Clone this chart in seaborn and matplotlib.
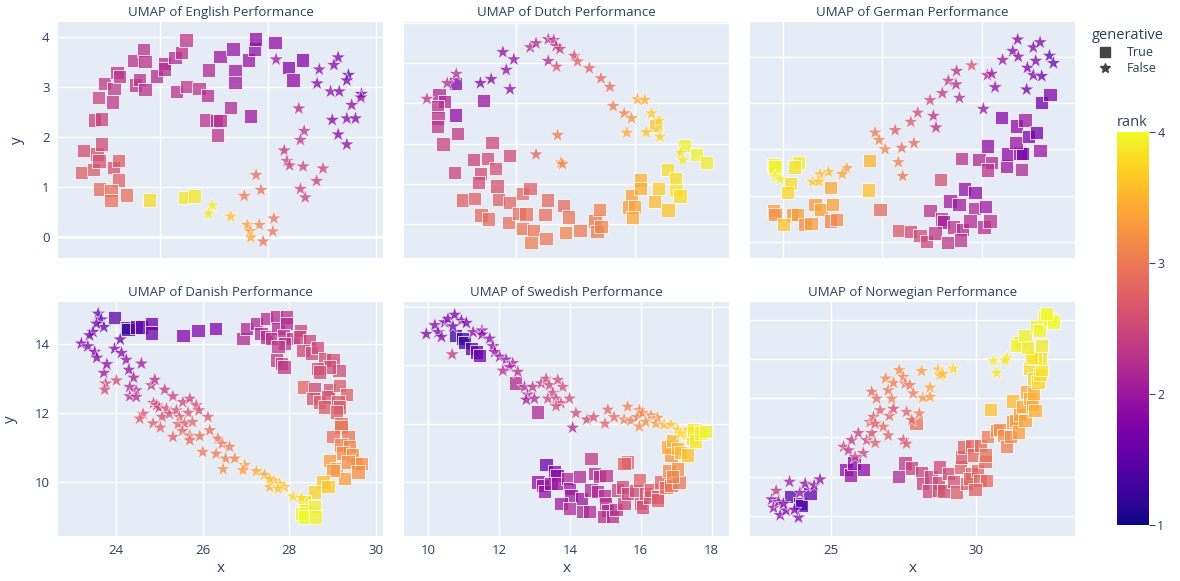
import matplotlib
matplotlib.use("Agg")
import matplotlib.pyplot as plt
import seaborn as sns
import pandas as pd
from matplotlib.lines import Line2D
from matplotlib.cm import ScalarMappable
from matplotlib.colors import Normalize

plt.rcParams['font.family'] = ['Open Sans', 'DejaVu Sans']

# ---------------- English ----------------
en_sq_x = [2.55, 2.58, 2.77, 2.83, 2.87, 2.91, 3.14, 3.23, 3.23, 2.88, 3.09, 3.09, 3.38, 3.80, 4.45, 4.64,
           2.78, 2.92, 2.86, 2.97, 3.12, 3.15, 3.20, 3.25, 3.51, 3.54, 3.62, 3.70, 3.72, 3.72, 3.94, 4.08,
           4.08, 4.28, 4.40, 4.48, 4.30, 4.49, 4.72, 4.88, 4.90, 4.85, 5.05, 5.11, 5.06, 5.11, 5.31, 5.35,
           5.39, 5.39, 5.64, 5.67, 5.75, 5.77, 6.13, 6.38, 6.46, 6.64]
en_sq_y = [1.29, 1.73, 1.35, 1.66, 1.52, 1.86, 1.39, 1.53, 1.14, 0.96, 0.93, 0.73, 0.84, 0.74, 0.79, 0.82,
           2.34, 2.36, 2.79, 3.07, 2.70, 2.97, 3.29, 3.21, 3.53, 3.04, 3.15, 3.74, 3.51, 2.95, 3.22, 3.47,
           3.36, 3.59, 3.69, 3.94, 2.91, 3.01, 2.97, 2.83, 3.34, 2.34, 2.33, 2.33, 2.04, 3.61, 2.59, 3.76,
           3.33, 3.09, 3.54, 2.42, 3.76, 3.96, 3.89, 3.39, 3.14, 3.54]
en_sq_rank = [2.75, 2.55, 2.7, 2.6, 2.6, 2.55, 2.6, 2.7, 2.75, 2.85, 2.9, 2.9, 2.9, 3.8, 3.85, 3.85,
              2.45, 2.45, 2.45, 2.33, 2.33, 2.33, 2.28, 2.28, 2.28, 2.28, 2.28, 2.28, 2.28, 2.28, 2.23, 2.23,
              2.23, 2.23, 2.28, 2.33, 2.28, 2.33, 2.28, 2.23, 2.18, 2.28, 2.23, 2.23, 2.28, 1.98, 2.18, 1.98,
              2.03, 2.03, 1.98, 1.98, 1.93, 1.88, 1.88, 1.8, 1.88, 1.8]
en_st_x = [6.15, 6.95, 6.91, 7.30, 7.22, 7.16, 7.32, 7.49, 7.46, 7.73, 7.72, 7.55, 7.19, 7.46, 7.62, 7.30,
           7.46, 6.57, 6.67, 6.60, 6.30, 6.35, 6.40, 6.65, 7.02, 6.90, 6.60, 6.69, 5.78, 5.87, 5.56, 6.11,
           6.09, 5.84, 5.62, 5.67, 5.68, 5.91, 5.31, 4.97, 4.90]
en_st_y = [3.55, 3.35, 3.07, 3.59, 3.44, 2.91, 2.91, 3.24, 3.13, 2.86, 2.79, 2.64, 2.34, 2.37, 2.37, 2.05,
           1.85, 2.57, 2.12, 1.94, 1.73, 1.52, 1.43, 1.41, 1.37, 1.12, 0.96, 0.79, 1.24, 0.94, 0.82, 0.37,
           0.11, 0.24, 0.24, 0.12, -0.01, -0.09, 0.41, 0.63, 0.47]
en_st_rank = [1.98, 1.88, 1.8, 1.75, 1.8, 1.88, 1.8, 1.5, 1.75, 1.55, 1.88, 1.88, 1.8, 1.8, 1.8, 1.8,
              1.88, 2.23, 2.28, 2.33, 2.33, 2.45, 2.45, 2.45, 2.45, 2.45, 2.45, 2.45, 2.9, 2.9, 2.95, 2.95,
              2.95, 3.1, 3.3, 3.3, 3.4, 2.95, 3.6, 3.85, 3.85]

# ---------------- Dutch ----------------
nl_sq_x = [2.49, 1.79, 2.03, 1.72, 1.75, 1.72, 2.49, 3.66, 2.56, 1.96, 4.01, 3.24, 3.84, 4.75, 2.45, 3.53,
           4.16, 3.46, 4.22, 2.77, 3.28, 4.29, 4.75, 5.30, 5.61, 3.56, 3.88, 4.70, 5.14, 5.44, 5.30, 5.76,
           5.65, 6.28, 6.24, 6.35, 7.00, 7.21, 7.09, 7.70, 8.33, 8.51, 8.41, 8.58, 9.87, 10.22, 10.22, 9.72,
           9.97, 9.90, 10.83, 10.99, 11.36, 11.71, 11.72, 11.89, 11.39, 12.09, 12.59, 12.99, 10.87]
nl_sq_y = [4.50, 4.21, 4.04, 3.93, 3.64, 3.42, 3.71, 4.07, 3.25, 2.99, 3.02, 2.61, 2.63, 2.70, 2.28, 2.26,
           2.39, 2.03, 1.95, 1.60, 1.64, 1.62, 1.53, 1.76, 1.89, 1.23, 1.13, 1.04, 1.27, 1.25, 0.89, 0.85,
           0.55, 0.65, 1.24, 1.60, 1.47, 1.18, 0.79, 0.84, 1.08, 1.37, 0.81, 0.95, 1.70, 2.10, 1.89, 1.43,
           1.43, 1.16, 1.56, 1.89, 2.36, 2.14, 1.83, 1.70, 1.35, 2.96, 2.73, 2.53, 3.45]
nl_sq_rank = [1.8, 2.18, 2.18, 2.28, 2.28, 2.33, 1.88, 1.98, 2.33, 2.45, 2.5, 2.45, 2.55, 2.55, 2.45, 2.55,
              2.6, 2.55, 2.6, 2.75, 2.75, 2.75, 2.8, 2.85, 2.75, 2.85, 2.85, 2.9, 2.9, 2.9, 2.95, 2.95,
              3.05, 3.0, 2.9, 2.85, 2.85, 2.95, 3.1, 3.0, 3.0, 3.05, 3.0, 3.1, 3.35, 3.45, 3.45, 3.3,
              3.35, 3.4, 3.55, 3.65, 3.8, 3.8, 3.85, 3.8, 3.6, 3.95, 3.95, 3.9, 3.65]
nl_st_x = [1.29, 2.52, 2.14, 3.53, 3.98, 4.77, 4.61, 4.47, 4.93, 5.62, 5.86, 6.37, 6.60, 6.70, 6.86, 6.37,
           6.72, 7.46, 7.60, 8.09, 8.58, 8.95, 9.09, 9.55, 9.86, 10.11, 10.41, 10.69, 11.01, 9.66, 10.48, 11.05,
           11.92, 12.00, 6.76, 5.86, 6.90, 6.97]
nl_st_y = [4.11, 4.73, 4.50, 4.50, 4.60, 4.35, 4.83, 5.27, 5.09, 5.39, 5.49, 5.59, 5.57, 5.42, 5.35, 5.05,
           4.91, 5.18, 5.04, 4.87, 4.62, 4.41, 3.93, 3.75, 3.63, 4.10, 4.08, 3.75, 3.57, 3.27, 3.28, 3.17,
           2.77, 2.59, 3.21, 2.73, 2.53, 2.49]
nl_st_rank = [2.28, 2.23, 2.23, 1.75, 1.8, 1.88, 1.88, 1.88, 1.93, 2.18, 2.18, 2.23, 2.28, 2.28, 2.33, 2.18,
              2.6, 2.5, 2.8, 2.75, 2.8, 2.85, 3.0, 3.1, 3.2, 3.4, 3.45, 3.65, 3.7, 3.4, 3.6, 3.7,
              3.8, 3.85, 3.0, 2.8, 3.2, 3.1]

# ---------------- German ----------------
de_sq_x = [9.50, 9.58, 10.76, 10.56, 10.37, 10.22, 9.50, 9.58, 10.48, 10.73, 10.00, 11.10, 11.40, 12.39, 11.60, 11.90,
           12.48, 12.39, 12.69, 14.34, 14.29, 14.88, 17.94, 19.00, 19.87, 20.51, 20.29, 20.29, 21.27, 21.32, 22.02, 21.94,
           22.06, 21.74, 22.95, 21.77, 22.19, 22.36, 22.78, 21.01, 23.03, 23.45, 19.13, 19.67, 18.41, 18.86, 19.64, 20.21,
           17.40, 17.99, 18.07, 18.58, 19.05, 19.42, 20.12, 20.43, 15.82, 16.43, 16.90, 17.23, 17.65, 18.27, 18.95]
de_sq_y = [1.66, 1.62, 1.72, 1.62, 1.26, 1.06, 0.67, 0.59, 0.58, 0.59, 0.38, 0.38, 0.40, 1.17, 0.81, 0.70,
           0.81, 0.45, 0.48, 1.75, 1.12, 0.70, 1.35, 1.80, 1.78, 1.72, 1.55, 2.07, 1.64, 1.90, 1.56, 1.92,
           1.91, 2.14, 1.98, 2.50, 2.63, 2.28, 2.36, 2.69, 3.01, 3.19, 1.14, 1.06, 0.88, 0.81, 0.72, 0.77,
           0.67, 0.49, 0.43, 0.32, 0.27, 0.45, 0.32, 0.45, 0.25, 0.22, 0.14, 0.00, 0.19, -0.01, 0.04]
de_sq_rank = [3.95, 3.95, 3.9, 3.85, 3.8, 3.75, 3.35, 3.2, 3.25, 3.3, 3.6, 3.2, 3.3, 3.4, 3.3, 3.35,
              3.35, 3.05, 3.15, 3.5, 3.6, 2.85, 2.6, 2.28, 2.18, 2.18, 2.28, 1.88, 1.98, 1.88, 2.18, 1.8,
              1.7, 1.98, 1.98, 1.88, 2.03, 1.75, 1.65, 1.8, 1.6, 1.75, 1.93, 1.88, 2.03, 2.03, 2.18, 2.03,
              2.28, 2.28, 2.03, 2.28, 2.23, 2.23, 2.23, 2.28, 2.7, 2.55, 2.55, 2.5, 2.33, 2.33, 2.28]
de_st_x = [21.82, 21.57, 21.85, 22.61, 22.95, 23.42, 23.62, 22.73, 22.31, 22.61, 23.03, 22.27, 21.06, 20.29, 20.51, 20.68,
           20.09, 19.50, 18.74, 18.32, 18.71, 18.88, 18.02, 17.40, 16.78, 17.57, 17.70, 16.43, 15.64, 14.63, 14.83, 15.13,
           15.97, 16.59, 15.80, 16.02, 13.20, 12.98, 12.27, 11.85, 11.48, 11.80, 9.58, 9.84]
de_st_y = [4.37, 4.12, 4.00, 4.20, 4.31, 4.02, 3.86, 3.91, 3.76, 3.60, 3.58, 3.29, 3.93, 3.60, 3.63, 3.34,
           2.87, 3.81, 3.69, 3.48, 3.40, 3.11, 3.21, 3.06, 2.79, 2.72, 2.47, 2.59, 2.41, 2.36, 2.20, 2.00,
           2.03, 2.13, 1.72, 1.42, 1.59, 1.46, 1.51, 1.46, 1.30, 1.30, 1.41, 1.35]
de_st_rank = [1.8, 1.8, 1.88, 1.8, 1.75, 1.5, 1.55, 1.75, 1.75, 1.75, 1.6, 1.65, 1.93, 2.18, 1.98, 1.88,
              1.93, 2.6, 2.28, 2.28, 2.23, 2.18, 2.33, 2.5, 2.55, 2.28, 2.23, 2.7, 2.7, 3.0, 3.05, 3.1,
              2.85, 2.85, 3.05, 2.95, 3.3, 3.35, 3.5, 3.55, 3.6, 3.6, 3.9, 3.9]

# ---------------- Danish ----------------
da_sq_x = [23.96, 24.23, 24.27, 24.46, 24.58, 24.81, 24.81, 25.54, 25.89, 26.30, 26.93, 27.01, 27.24, 27.35, 27.47, 27.47,
           27.70, 27.74, 27.59, 27.93, 27.93, 27.86, 28.09, 27.89, 27.74, 28.26, 28.24, 28.47, 28.32, 28.51, 28.66, 27.70,
           27.82, 27.88, 28.82, 29.01, 29.15, 28.93, 28.66, 28.70, 28.33, 28.59, 28.55, 28.70, 28.93, 28.90, 29.17, 29.32,
           29.13, 29.17, 28.82, 29.09, 29.20, 29.20, 29.01, 29.36, 29.20, 29.40, 29.24, 29.47, 29.55, 28.93, 29.09, 29.36,
           29.67, 29.59, 29.28, 29.01, 28.78, 28.90, 28.59, 28.36, 28.39, 28.59, 28.28, 28.36, 28.61]
da_sq_y = [14.77, 14.48, 14.43, 14.50, 14.50, 14.60, 14.33, 14.26, 14.41, 14.46, 14.16, 14.46, 14.60, 14.31, 14.75, 14.21,
           14.79, 14.46, 14.16, 14.79, 14.60, 14.26, 14.16, 14.02, 13.94, 14.41, 14.21, 14.11, 13.83, 13.75, 13.90, 13.54,
           13.44, 13.34, 13.58, 13.54, 13.24, 13.34, 13.29, 13.20, 12.76, 12.71, 12.42, 12.32, 12.68, 12.47, 12.81, 12.55,
           12.32, 12.18, 12.18, 12.03, 11.69, 11.60, 11.33, 11.33, 11.07, 11.04, 10.84, 10.78, 10.53, 10.63, 10.39, 10.58,
           10.53, 10.29, 10.10, 10.34, 10.00, 9.87, 9.71, 9.42, 9.18, 9.27, 9.08, 8.98, 8.98]
da_sq_rank = [1.5, 1.3, 1.2, 1.5, 1.5, 1.6, 1.6, 1.75, 1.75, 1.75, 2.18, 2.18, 2.18, 2.18, 2.23, 2.23,
              2.23, 2.23, 2.28, 2.28, 2.23, 2.28, 2.33, 2.28, 2.33, 2.45, 2.45, 2.45, 2.5, 2.5, 2.5, 2.33,
              2.45, 2.33, 2.55, 2.55, 2.55, 2.55, 2.55, 2.55, 2.8, 2.55, 2.6, 2.7, 2.6, 2.6, 2.7, 2.75,
              2.7, 2.7, 2.7, 2.7, 2.9, 2.95, 2.9, 2.95, 3.1, 3.1, 3.15, 3.2, 3.2, 3.3, 3.3, 3.2,
              3.2, 3.2, 3.3, 3.25, 3.6, 3.65, 3.75, 3.85, 3.95, 3.9, 4.0, 4.0, 3.95]
da_st_x = [23.58, 23.65, 23.71, 23.54, 23.46, 23.38, 23.19, 23.34, 23.50, 23.55, 23.71, 23.78, 23.75, 23.73, 24.00, 23.96,
           24.09, 24.12, 24.23, 24.29, 24.40, 24.46, 24.31, 24.31, 24.46, 24.58, 24.81, 24.89, 25.12, 25.31, 24.86, 24.62,
           24.54, 24.93, 24.99, 25.16, 25.06, 25.23, 25.39, 25.54, 25.70, 25.85, 25.91, 25.66, 25.46, 26.12, 24.85, 25.02,
           25.31, 25.43, 25.58, 25.76, 25.53, 25.70, 25.70, 25.93, 26.00, 26.16, 26.35, 26.31, 26.45, 26.62, 26.53, 26.74,
           26.47, 26.97, 26.93, 27.24, 27.43, 27.55, 27.66, 27.78, 27.89, 27.74, 27.55, 28.09, 28.28]
da_st_y = [14.89, 14.72, 14.50, 14.60, 14.36, 14.26, 14.02, 13.94, 13.78, 13.61, 13.17, 13.42, 12.86, 12.68, 12.95, 13.87,
           14.14, 13.75, 13.55, 13.26, 13.03, 12.66, 12.76, 12.49, 12.47, 13.44, 12.81, 12.97, 12.68, 12.49, 12.29, 11.98,
           11.84, 12.23, 12.16, 12.13, 11.89, 11.98, 12.08, 12.32, 12.42, 12.23, 12.08, 12.01, 11.89, 11.89, 11.70, 11.58,
           11.31, 11.68, 11.70, 11.74, 11.48, 11.35, 11.21, 11.33, 10.87, 11.50, 11.26, 10.82, 11.11, 11.02, 10.68, 10.68,
           10.37, 10.49, 10.34, 10.31, 10.21, 9.85, 10.04, 9.95, 9.85, 9.80, 10.09, 9.58, 9.53]
da_st_rank = [1.55, 1.55, 1.5, 1.6, 1.65, 1.65, 1.7, 1.75, 1.75, 1.8, 1.98, 1.88, 2.45, 2.55, 2.55, 1.75,
              1.65, 1.8, 1.88, 1.88, 2.03, 2.18, 2.18, 2.23, 2.23, 1.98, 2.28, 2.23, 2.33, 2.45, 2.5, 2.6,
              2.7, 2.5, 2.5, 2.55, 2.55, 2.55, 2.55, 2.5, 2.5, 2.55, 2.6, 2.6, 2.7, 2.7, 2.7, 2.75,
              2.75, 2.75, 2.7, 2.8, 2.8, 2.85, 2.85, 2.85, 3.0, 2.85, 2.9, 3.0, 3.0, 3.0, 3.05, 3.1,
              3.2, 3.3, 3.3, 3.4, 3.4, 3.5, 3.55, 3.6, 3.6, 3.6, 3.55, 3.75, 3.8]

# ---------------- Swedish ----------------
sv_sq_x = [10.78, 10.98, 11.03, 11.22, 11.36, 11.45, 12.47, 13.08, 13.33, 13.56, 13.64, 13.10, 13.22, 13.28, 13.47, 13.66,
           13.94, 13.99, 14.27, 14.03, 14.32, 13.75, 13.99, 14.36, 14.55, 14.60, 14.69, 14.83, 15.02, 14.60, 14.78, 14.97,
           15.00, 15.07, 14.95, 15.21, 15.30, 15.53, 15.35, 15.49, 15.63, 15.53, 15.63, 15.86, 15.96, 16.00, 16.05, 16.14,
           16.24, 16.29, 16.47, 16.47, 16.57, 16.71, 16.85, 17.08, 16.80, 17.04, 16.89, 16.85, 16.75, 16.89, 17.04, 17.13,
           17.32, 17.36, 17.46, 17.50, 17.55, 17.69, 17.83]
sv_sq_y = [4.51, 4.46, 4.40, 4.29, 4.23, 4.17, 3.70, 3.20, 2.30, 2.17, 2.11, 2.00, 1.94, 1.83, 1.97, 1.97,
           2.06, 1.89, 2.09, 1.77, 1.71, 1.63, 1.54, 1.49, 1.49, 2.40, 2.14, 2.09, 2.11, 1.86, 1.84, 1.77,
           1.63, 1.51, 1.40, 1.40, 1.53, 1.63, 1.86, 1.91, 2.34, 2.31, 1.80, 1.85, 2.03, 1.63, 1.57, 1.80,
           1.74, 1.86, 1.74, 1.69, 2.00, 1.90, 1.94, 2.00, 2.20, 2.22, 2.09, 2.46, 2.60, 2.71, 2.57, 2.51,
           2.46, 2.84, 2.74, 2.89, 2.70, 2.84, 2.87]
sv_sq_rank = [1.3, 1.2, 1.3, 1.4, 1.45, 1.6, 2.18, 2.18, 1.6, 1.75, 1.8, 1.88, 1.98, 1.93, 1.93, 1.98,
              2.18, 2.03, 2.18, 2.03, 1.98, 2.03, 2.18, 2.18, 2.18, 2.33, 2.18, 2.18, 2.28, 2.18, 2.18, 2.23,
              2.23, 2.18, 2.23, 2.23, 2.28, 2.45, 2.45, 2.5, 2.8, 2.75, 2.5, 2.55, 2.75, 2.55, 2.55, 2.6,
              2.6, 2.7, 2.7, 2.7, 2.8, 2.85, 2.95, 2.95, 3.15, 3.2, 3.1, 3.25, 3.4, 3.5, 3.5, 3.55,
              3.6, 3.8, 3.85, 3.9, 3.85, 3.95, 3.95]
sv_st_x = [9.95, 10.19, 10.28, 10.38, 10.47, 10.56, 10.75, 10.94, 11.08, 10.70, 11.27, 11.52, 11.52, 11.74, 11.83, 11.88,
           12.02, 12.20, 12.39, 12.30, 12.11, 12.53, 10.68, 12.72, 12.81, 12.77, 13.00, 12.95, 13.19, 13.33, 13.42, 13.66,
           13.80, 13.52, 13.38, 13.61, 13.75, 13.99, 13.61, 14.17, 14.08, 14.48, 14.67, 14.99, 15.07, 15.25, 15.63, 15.53,
           15.72, 15.96, 15.91, 16.05, 16.29, 15.96, 16.14, 16.47, 16.43, 16.66, 16.85, 17.04, 17.13]
sv_st_y = [4.54, 4.69, 4.57, 4.49, 4.74, 4.80, 4.87, 4.77, 4.73, 4.67, 4.57, 4.60, 4.53, 4.46, 4.33, 4.23,
           4.15, 4.10, 4.04, 3.97, 3.91, 3.89, 4.19, 3.63, 3.50, 3.41, 3.43, 3.63, 3.69, 3.77, 3.66, 3.75,
           3.63, 3.53, 3.43, 3.43, 3.35, 3.43, 3.30, 3.18, 2.93, 3.07, 3.11, 3.00, 3.24, 3.11, 3.29, 3.07,
           3.05, 3.23, 3.11, 3.18, 3.14, 2.95, 3.03, 3.10, 3.00, 2.98, 2.98, 2.90, 2.83]
sv_st_rank = [1.75, 1.75, 1.75, 1.8, 1.7, 1.75, 1.7, 1.7, 1.7, 1.65, 1.88, 1.88, 1.8, 1.88, 1.93, 1.88,
              1.98, 1.98, 2.18, 2.03, 2.23, 2.23, 2.33, 2.18, 2.18, 2.03, 2.18, 2.28, 2.33, 2.45, 2.5, 2.5,
              2.55, 2.45, 2.45, 2.5, 2.5, 2.55, 2.55, 2.55, 2.18, 2.55, 2.6, 2.75, 2.8, 2.8, 3.1, 3.0,
              3.0, 3.05, 3.0, 3.1, 3.15, 3.1, 3.2, 3.2, 3.3, 3.5, 3.6, 3.7, 3.75]

# ---------------- Norwegian ----------------
no_sq_x = [23.62, 23.94, 24.00, 24.29, 25.53, 25.67, 25.80, 26.12,
           27.33, 27.56, 27.79, 27.94, 28.13, 28.17, 28.36, 28.45, 28.74, 28.70,
           28.72, 28.90, 29.05, 29.22, 29.33, 29.47, 29.51, 29.68, 29.59, 29.85,
           29.91, 29.85, 29.79, 30.05, 30.14, 30.16, 30.31, 30.37, 30.34, 29.97,
           30.39, 30.50, 30.71, 30.80, 30.94, 31.06, 31.19, 31.25, 31.26, 31.38,
           31.46, 31.51, 31.61, 31.69, 31.75, 31.86, 31.94, 31.97, 32.03, 31.86,
           31.97, 32.14, 32.20, 32.26, 32.22, 32.03, 31.92, 32.26, 31.51, 31.40,
           31.69, 31.77, 32.09, 32.18, 32.37, 32.55, 32.66, 32.43]
no_sq_y = [1.50, 1.31, 1.27, 1.57, 2.18, 2.04, 2.35, 2.19,
           2.01, 2.35, 2.22, 3.37, 2.10, 1.82, 1.64, 1.99, 2.25, 1.84,
           1.65, 1.64, 2.08, 1.87, 1.61, 2.25, 2.50, 1.82, 2.76, 2.80,
           2.55, 2.08, 1.95, 2.16, 1.91, 2.80, 2.38, 1.91, 2.55, 1.67,
           3.03, 3.71, 3.18, 3.20, 3.05, 2.77, 3.03, 3.39, 3.93, 3.44,
           3.14, 3.59, 3.78, 3.44, 4.16, 3.99, 3.84, 4.12, 3.69, 4.75,
           4.50, 4.41, 4.60, 4.73, 5.01, 5.01, 5.03, 5.35, 5.41, 5.35,
           5.60, 5.29, 5.83, 5.73, 6.07, 6.00, 5.94, 6.15]
no_sq_rank = [1.45, 1.35, 1.4, 1.55, 1.88, 1.93, 1.8, 1.88,
              2.18, 2.33, 2.45, 2.9, 2.45, 2.45, 2.5, 2.45, 2.5, 2.55,
              2.55, 2.6, 2.55, 2.6, 2.7, 2.75, 2.7, 2.75, 2.75, 2.8,
              2.8, 2.75, 2.8, 2.8, 2.8, 2.85, 2.85, 2.85, 2.9, 2.75,
              3.05, 3.6, 3.1, 3.15, 3.2, 3.05, 3.15, 3.2, 3.55, 3.3,
              3.3, 3.35, 3.4, 3.35, 3.4, 3.45, 3.4, 3.45, 3.45, 3.8,
              3.75, 3.75, 3.8, 3.85, 3.85, 3.85, 3.85, 3.9, 3.9, 3.95,
              3.95, 3.9, 3.95, 3.95, 4.0, 4.0, 4.0, 4.0]
no_st_x = [22.97, 23.12, 23.03, 23.20, 23.26, 23.46, 23.58, 23.89, 23.75, 23.94, 24.12, 24.43, 24.63, 23.37,
           25.44, 25.72, 25.61, 25.95, 26.12, 25.84, 26.24, 26.41, 26.53, 26.35,
           26.70, 26.47, 26.81, 26.98, 27.02, 27.16, 26.53, 26.41, 26.58, 26.89,
           26.98, 27.10, 27.16, 27.36, 27.50, 27.56, 27.73, 27.84, 27.61, 27.79,
           27.50, 27.61, 28.05, 28.13, 28.17, 28.42, 28.42, 28.70, 28.76, 28.85,
           29.22, 30.60, 30.71, 31.06, 31.00]
no_st_y = [1.42, 1.64, 1.21, 1.36, 1.02, 1.14, 1.87, 0.96, 1.16, 1.59, 1.82, 1.78, 1.93, 1.31,
           2.76, 2.93, 2.67, 3.11, 2.60, 2.50, 2.93, 3.11, 2.86, 3.39,
           3.69, 3.52, 3.27, 3.05, 3.55, 3.73, 3.35, 4.16, 3.99, 4.50,
           4.20, 3.99, 4.39, 4.71, 4.54, 4.37, 4.33, 4.12, 3.65, 3.44,
           2.93, 2.84, 3.61, 4.69, 4.01, 4.27, 4.03, 4.73, 4.58, 4.62,
           4.75, 4.95, 4.64, 5.03, 4.96]
no_st_rank = [1.8, 2.28, 1.88, 1.75, 1.8, 1.75, 2.03, 1.75, 1.75, 1.88, 1.88, 1.88, 1.88, 1.8,
              2.45, 2.28, 2.33, 2.45, 2.45, 2.45, 2.5, 2.55, 2.7, 2.7,
              2.75, 2.75, 2.8, 2.75, 2.8, 2.55, 2.7, 2.85, 2.85, 3.1,
              2.95, 3.05, 3.05, 3.15, 3.05, 2.9, 2.95, 3.0, 2.8, 2.85,
              2.55, 2.7, 3.0, 3.3, 3.25, 3.35, 3.3, 3.6, 3.55, 3.55,
              3.8, 3.9, 3.85, 3.9, 3.85]

languages = ["English", "Dutch", "German", "Danish", "Swedish", "Norwegian"]
series = {
    "English": (en_sq_x, en_sq_y, en_sq_rank, en_st_x, en_st_y, en_st_rank),
    "Dutch": (nl_sq_x, nl_sq_y, nl_sq_rank, nl_st_x, nl_st_y, nl_st_rank),
    "German": (de_sq_x, de_sq_y, de_sq_rank, de_st_x, de_st_y, de_st_rank),
    "Danish": (da_sq_x, da_sq_y, da_sq_rank, da_st_x, da_st_y, da_st_rank),
    "Swedish": (sv_sq_x, sv_sq_y, sv_sq_rank, sv_st_x, sv_st_y, sv_st_rank),
    "Norwegian": (no_sq_x, no_sq_y, no_sq_rank, no_st_x, no_st_y, no_st_rank),
}

# axis ranges / grid ticks per panel
limits = {
    "English": ((2.11, 8.13), (-0.42, 4.3), [4, 6, 8], [0, 1, 2, 3, 4]),
    "Dutch": ((0.33, 13.94), (0.16, 6.02), [5, 10], [1, 2, 3, 4, 5, 6]),
    "German": ((8.32, 24.71), (-0.35, 4.75), [10, 15, 20], [0, 1, 2, 3, 4]),
    "Danish": ((22.65, 30.17), (8.43, 15.23), [24, 26, 28, 30], [10, 12, 14]),
    "Swedish": ((9.32, 18.49), (1.07, 5.09), [10, 12, 14, 16, 18], [2, 3, 4, 5]),
    "Norwegian": ((22.22, 33.41), (0.49, 6.45), [25, 30], [1, 2, 3, 4, 5, 6]),
}

W, H = 1180, 581
text_col = '#2a3f5f'
fig = plt.figure(figsize=(W / 100, H / 100), dpi=100)

lefts = [58, 404, 750]
tops = [22, 302]
heights = [236, 234]

for i, lang in enumerate(languages):
    row, col = divmod(i, 3)
    ax = fig.add_axes([lefts[col] / W, (H - tops[row] - heights[row]) / H, 325 / W, heights[row] / H])
    ax.set_facecolor('#E5ECF6')
    sq_x, sq_y, sq_r, st_x, st_y, st_r = series[lang]
    df = pd.concat([
        pd.DataFrame({"x": sq_x, "y": sq_y, "rank": sq_r, "generative": True}),
        pd.DataFrame({"x": st_x, "y": st_y, "rank": st_r, "generative": False}),
    ], ignore_index=True)

    sns.scatterplot(data=df[df.generative], x="x", y="y", hue="rank", palette="plasma",
                    hue_norm=(1, 4), marker="s", s=92, alpha=0.75, edgecolor="white",
                    linewidth=0.7, legend=False, ax=ax, zorder=3)
    sns.scatterplot(data=df[~df.generative], x="x", y="y", hue="rank", palette="plasma",
                    hue_norm=(1, 4), marker="*", s=130, alpha=0.75, edgecolor="white",
                    linewidth=0.5, legend=False, ax=ax, zorder=3)

    xlim, ylim, xt, yt = limits[lang]
    ax.set_xlim(*xlim)
    ax.set_ylim(*ylim)
    ax.set_xticks(xt)
    ax.set_yticks(yt)
    ax.grid(True, color='white', linewidth=1)
    ax.set_axisbelow(True)
    if lang == "English":
        ax.axhline(0, color='white', linewidth=2, zorder=1)
    for s in ax.spines.values():
        s.set_visible(False)
    ax.tick_params(length=0, labelsize=9.5, labelcolor=text_col, pad=6)
    ax.set_title(f"UMAP of {lang} Performance", fontsize=9.5, color=text_col, pad=4)

    if row == 0:
        ax.set_xticklabels([])
        ax.set_xlabel("")
    else:
        ax.set_xlabel("x", fontsize=11, color=text_col, labelpad=3)
    if col == 0:
        ax.set_ylabel("y", fontsize=11, color=text_col, labelpad=12)
    else:
        ax.set_yticklabels([])
        ax.set_ylabel("")

# legend for marker symbol
handles = [
    Line2D([], [], marker='s', linestyle='', color='#444444', markersize=7, label='True'),
    Line2D([], [], marker='*', linestyle='', color='#444444', markersize=7, label='False'),
]
leg = fig.legend(handles=handles, title='generative', loc='upper left',
                 bbox_to_anchor=(1086 / W, 1 - 22 / H), frameon=False,
                 fontsize=9, title_fontsize=10.5, handletextpad=0.8,
                 labelspacing=0.25, borderpad=0, alignment='left')
for t in leg.get_texts():
    t.set_color(text_col)
leg.get_title().set_color(text_col)

# colorbar for rank
cax = fig.add_axes([1117 / W, (H - 525) / H, 32 / W, 393 / H])
cb = fig.colorbar(ScalarMappable(norm=Normalize(1, 4), cmap='plasma'), cax=cax, ticks=[1, 2, 3, 4])
cb.outline.set_visible(False)
cax.tick_params(length=4, width=0.8, colors='#444444', labelsize=9, labelcolor=text_col, pad=2)
cax.set_title('rank', fontsize=10.5, color=text_col, loc='left', pad=4)

fig.savefig('out.png', dpi=100)
